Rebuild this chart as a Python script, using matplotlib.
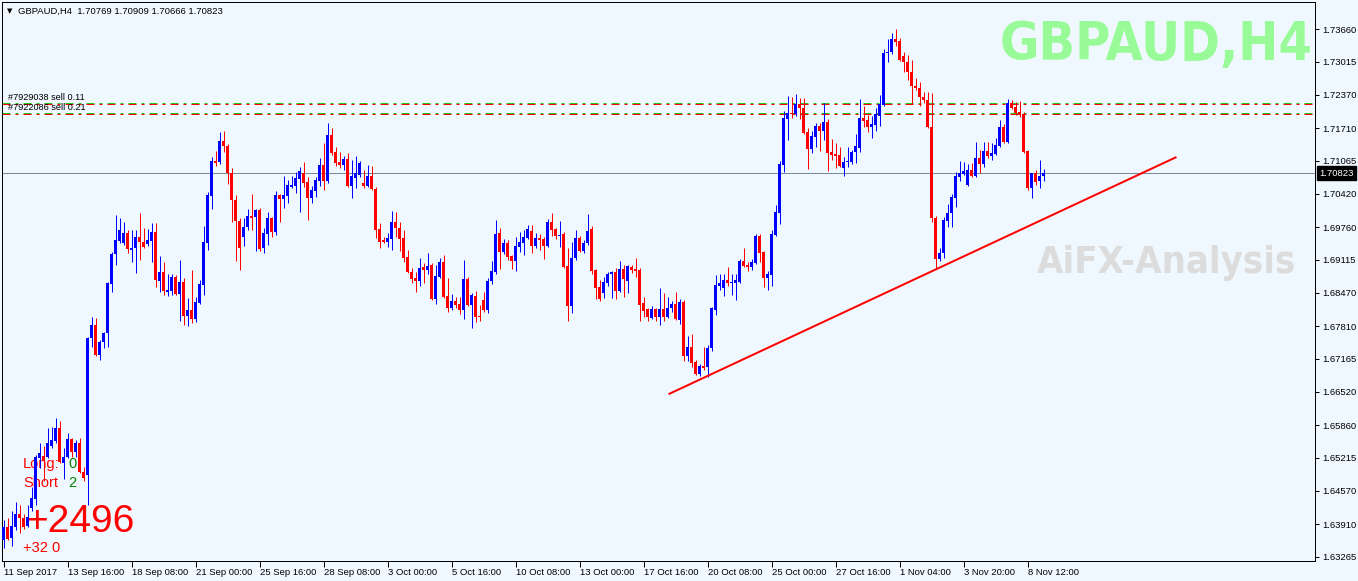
import matplotlib
matplotlib.use("Agg")
import matplotlib.pyplot as plt
import matplotlib.transforms as mtransforms
from matplotlib import font_manager as fm

# GBPAUD H4 candles (bar 0 = 11 Sep 2017 00:00)
opens = [
    1.6359, 1.6385, 1.6363, 1.6385, 1.6412, 1.6403, 1.6387, 1.6422, 1.6440, 1.6521,
    1.6525, 1.6523, 1.6546, 1.6554, 1.6580, 1.6511, 1.6523, 1.6558, 1.6533, 1.6550,
    1.6493, 1.6487, 1.6757, 1.6783, 1.6724, 1.6749, 1.6767, 1.6864, 1.6923, 1.6948,
    1.6944, 1.6964, 1.6930, 1.6934, 1.6956, 1.6946, 1.6942, 1.6948, 1.6966, 1.6870,
    1.6887, 1.6848, 1.6850, 1.6877, 1.6844, 1.6868, 1.6800, 1.6812, 1.6795, 1.6826,
    1.6862, 1.6944, 1.7037, 1.7106, 1.7104, 1.7145, 1.7135, 1.7082, 1.7029, 1.6988,
    1.6956, 1.6976, 1.6997, 1.6996, 1.7009, 1.6934, 1.6962, 1.6994, 1.6966, 1.7039,
    1.7031, 1.7037, 1.7055, 1.7057, 1.7070, 1.7082, 1.7065, 1.7033, 1.7047, 1.7066,
    1.7098, 1.7066, 1.7157, 1.7124, 1.7104, 1.7098, 1.7110, 1.7057, 1.7072, 1.7078,
    1.7063, 1.7057, 1.7076, 1.7051, 1.6972, 1.6950, 1.6946, 1.6952, 1.6986, 1.6974,
    1.6954, 1.6917, 1.6887, 1.6875, 1.6870, 1.6897, 1.6891, 1.6901, 1.6834, 1.6877,
    1.6907, 1.6840, 1.6816, 1.6830, 1.6824, 1.6812, 1.6873, 1.6822, 1.6840, 1.6801,
    1.6832, 1.6812, 1.6870, 1.6887, 1.6964, 1.6927, 1.6944, 1.6919, 1.6909, 1.6936,
    1.6944, 1.6954, 1.6968, 1.6938, 1.6954, 1.6952, 1.6938, 1.6986, 1.6972, 1.6958,
    1.6962, 1.6899, 1.6820, 1.6915, 1.6954, 1.6929, 1.6944, 1.6972, 1.6891, 1.6858,
    1.6846, 1.6866, 1.6883, 1.6887, 1.6850, 1.6893, 1.6870, 1.6897, 1.6893, 1.6891,
    1.6826, 1.6814, 1.6797, 1.6814, 1.6799, 1.6814, 1.6799, 1.6816, 1.6824, 1.6793,
    1.6828, 1.6722, 1.6739, 1.6710, 1.6686, 1.6702, 1.6700, 1.6737, 1.6812, 1.6860,
    1.6856, 1.6872, 1.6866, 1.6866, 1.6868, 1.6909, 1.6901, 1.6897, 1.6905, 1.6958,
    1.6927, 1.6875, 1.6881, 1.6960, 1.7003, 1.7098, 1.7189, 1.7200, 1.7198, 1.7218,
    1.7210, 1.7163, 1.7130, 1.7153, 1.7175, 1.7165, 1.7183, 1.7124, 1.7120, 1.7118,
    1.7092, 1.7104, 1.7104, 1.7124, 1.7131, 1.7191, 1.7187, 1.7173, 1.7177, 1.7194,
    1.7216, 1.7319, 1.7321, 1.7346, 1.7342, 1.7313, 1.7301, 1.7281, 1.7254, 1.7250,
    1.7232, 1.7226, 1.7173, 1.6994, 1.6913, 1.6925, 1.6988, 1.7003, 1.7033, 1.7074,
    1.7080, 1.7059, 1.7088, 1.7076, 1.7112, 1.7100, 1.7126, 1.7116, 1.7120, 1.7135,
    1.7173, 1.7143, 1.7220, 1.7212, 1.7202, 1.7198, 1.7126, 1.7053, 1.7082, 1.7066,
    1.70769,
]
highs = [
    1.6399, 1.6403, 1.6418, 1.6434, 1.6428, 1.6412, 1.6428, 1.6464, 1.6527, 1.6550,
    1.6546, 1.6580, 1.6582, 1.6600, 1.6594, 1.6542, 1.6570, 1.6560, 1.6556, 1.6560,
    1.6503, 1.6759, 1.6799, 1.6797, 1.6753, 1.6769, 1.6868, 1.6927, 1.6999, 1.6994,
    1.6986, 1.6970, 1.6970, 1.6970, 1.7003, 1.6974, 1.6972, 1.6984, 1.6984, 1.6919,
    1.6907, 1.6883, 1.6883, 1.6881, 1.6911, 1.6875, 1.6836, 1.6891, 1.6838, 1.6872,
    1.6978, 1.7045, 1.7114, 1.7126, 1.7163, 1.7165, 1.7139, 1.7092, 1.7039, 1.6994,
    1.6994, 1.7011, 1.7041, 1.7011, 1.7013, 1.6974, 1.7005, 1.6996, 1.7047, 1.7041,
    1.7076, 1.7068, 1.7076, 1.7084, 1.7094, 1.7104, 1.7074, 1.7057, 1.7074, 1.7112,
    1.7141, 1.7181, 1.7171, 1.7133, 1.7124, 1.7116, 1.7122, 1.7108, 1.7116, 1.7106,
    1.7088, 1.7098, 1.7096, 1.7055, 1.6984, 1.6956, 1.6964, 1.7007, 1.7005, 1.6986,
    1.6970, 1.6930, 1.6895, 1.6887, 1.6915, 1.6905, 1.6925, 1.6905, 1.6901, 1.6915,
    1.6921, 1.6875, 1.6844, 1.6838, 1.6838, 1.6911, 1.6877, 1.6846, 1.6850, 1.6822,
    1.6848, 1.6875, 1.6909, 1.6990, 1.6974, 1.6952, 1.6950, 1.6921, 1.6956, 1.6966,
    1.6970, 1.6980, 1.6980, 1.6964, 1.6962, 1.6956, 1.6992, 1.7003, 1.6974, 1.6988,
    1.6966, 1.6934, 1.6946, 1.6970, 1.6958, 1.6950, 1.7001, 1.6978, 1.6893, 1.6872,
    1.6877, 1.6887, 1.6889, 1.6895, 1.6909, 1.6901, 1.6901, 1.6901, 1.6915, 1.6895,
    1.6838, 1.6816, 1.6820, 1.6816, 1.6856, 1.6846, 1.6838, 1.6830, 1.6848, 1.6834,
    1.6832, 1.6761, 1.6765, 1.6714, 1.6706, 1.6739, 1.6743, 1.6818, 1.6881, 1.6883,
    1.6883, 1.6897, 1.6883, 1.6883, 1.6913, 1.6934, 1.6907, 1.6913, 1.6962, 1.6962,
    1.6929, 1.6889, 1.6970, 1.7019, 1.7106, 1.7204, 1.7234, 1.7232, 1.7238, 1.7230,
    1.7230, 1.7171, 1.7165, 1.7181, 1.7181, 1.7220, 1.7189, 1.7149, 1.7141, 1.7133,
    1.7114, 1.7133, 1.7128, 1.7159, 1.7228, 1.7214, 1.7196, 1.7194, 1.7210, 1.7236,
    1.7326, 1.7346, 1.7358, 1.7366, 1.7348, 1.7321, 1.7315, 1.7305, 1.7269, 1.7261,
    1.7242, 1.7242, 1.7240, 1.6998, 1.6934, 1.6996, 1.7021, 1.7041, 1.7084, 1.7106,
    1.7104, 1.7100, 1.7102, 1.7143, 1.7128, 1.7143, 1.7143, 1.7141, 1.7151, 1.7187,
    1.7179, 1.7228, 1.7226, 1.7222, 1.7224, 1.7202, 1.7128, 1.7082, 1.7088, 1.7108,
    1.70909,
]
lows = [
    1.6345, 1.6359, 1.6349, 1.6379, 1.6373, 1.6381, 1.6385, 1.6418, 1.6428, 1.6501,
    1.6477, 1.6521, 1.6542, 1.6550, 1.6511, 1.6481, 1.6521, 1.6523, 1.6523, 1.6491,
    1.6477, 1.6428, 1.6739, 1.6722, 1.6714, 1.6737, 1.6739, 1.6848, 1.6901, 1.6944,
    1.6940, 1.6925, 1.6907, 1.6885, 1.6911, 1.6934, 1.6938, 1.6907, 1.6858, 1.6848,
    1.6842, 1.6840, 1.6842, 1.6842, 1.6791, 1.6783, 1.6781, 1.6787, 1.6789, 1.6824,
    1.6842, 1.6930, 1.7011, 1.7096, 1.7100, 1.7124, 1.7061, 1.6986, 1.6909, 1.6891,
    1.6938, 1.6970, 1.6970, 1.6929, 1.6929, 1.6925, 1.6940, 1.6956, 1.6960, 1.6986,
    1.7013, 1.7023, 1.7053, 1.7043, 1.7005, 1.7055, 1.6990, 1.7023, 1.7035, 1.7057,
    1.7049, 1.7063, 1.7118, 1.7096, 1.7092, 1.7088, 1.7055, 1.7033, 1.7053, 1.7074,
    1.7053, 1.7055, 1.7049, 1.6954, 1.6934, 1.6944, 1.6936, 1.6930, 1.6956, 1.6929,
    1.6907, 1.6885, 1.6866, 1.6848, 1.6860, 1.6866, 1.6883, 1.6832, 1.6824, 1.6875,
    1.6836, 1.6808, 1.6812, 1.6816, 1.6804, 1.6795, 1.6820, 1.6777, 1.6789, 1.6791,
    1.6808, 1.6806, 1.6864, 1.6883, 1.6893, 1.6923, 1.6911, 1.6893, 1.6889, 1.6927,
    1.6921, 1.6952, 1.6925, 1.6934, 1.6930, 1.6913, 1.6936, 1.6958, 1.6952, 1.6936,
    1.6895, 1.6791, 1.6806, 1.6911, 1.6927, 1.6925, 1.6940, 1.6883, 1.6834, 1.6830,
    1.6836, 1.6860, 1.6836, 1.6834, 1.6848, 1.6838, 1.6846, 1.6885, 1.6877, 1.6791,
    1.6799, 1.6791, 1.6795, 1.6791, 1.6783, 1.6791, 1.6797, 1.6808, 1.6793, 1.6785,
    1.6712, 1.6712, 1.6700, 1.6684, 1.6682, 1.6694, 1.6680, 1.6733, 1.6802, 1.6852,
    1.6840, 1.6860, 1.6842, 1.6832, 1.6866, 1.6897, 1.6889, 1.6891, 1.6903, 1.6907,
    1.6858, 1.6852, 1.6860, 1.6958, 1.6982, 1.7084, 1.7147, 1.7191, 1.7194, 1.7189,
    1.7159, 1.7090, 1.7122, 1.7133, 1.7126, 1.7147, 1.7086, 1.7108, 1.7092, 1.7094,
    1.7076, 1.7094, 1.7100, 1.7102, 1.7124, 1.7173, 1.7163, 1.7151, 1.7165, 1.7175,
    1.7214, 1.7301, 1.7317, 1.7332, 1.7303, 1.7281, 1.7265, 1.7218, 1.7246, 1.7214,
    1.7220, 1.7171, 1.6986, 1.6895, 1.6909, 1.6915, 1.6976, 1.6976, 1.7015, 1.7066,
    1.7078, 1.7057, 1.7074, 1.7074, 1.7082, 1.7094, 1.7112, 1.7108, 1.7118, 1.7133,
    1.7141, 1.7141, 1.7208, 1.7196, 1.7192, 1.7122, 1.7049, 1.7033, 1.7059, 1.7053,
    1.70666,
]
closes = [
    1.6385, 1.6361, 1.6387, 1.6412, 1.6403, 1.6385, 1.6405, 1.6442, 1.6523, 1.6531,
    1.6517, 1.6550, 1.6556, 1.6580, 1.6513, 1.6523, 1.6558, 1.6533, 1.6550, 1.6493,
    1.6483, 1.6757, 1.6783, 1.6724, 1.6749, 1.6767, 1.6866, 1.6923, 1.6950, 1.6970,
    1.6964, 1.6932, 1.6934, 1.6956, 1.6946, 1.6936, 1.6950, 1.6966, 1.6872, 1.6887,
    1.6850, 1.6852, 1.6877, 1.6844, 1.6868, 1.6800, 1.6812, 1.6795, 1.6828, 1.6864,
    1.6946, 1.7039, 1.7106, 1.7102, 1.7145, 1.7135, 1.7082, 1.7029, 1.6988, 1.6934,
    1.6976, 1.6997, 1.6994, 1.7009, 1.6932, 1.6964, 1.6994, 1.6966, 1.7039, 1.7031,
    1.7039, 1.7059, 1.7059, 1.7072, 1.7086, 1.7063, 1.7033, 1.7049, 1.7068, 1.7098,
    1.7066, 1.7157, 1.7122, 1.7102, 1.7098, 1.7110, 1.7057, 1.7076, 1.7082, 1.7102,
    1.7057, 1.7076, 1.7051, 1.6970, 1.6946, 1.6946, 1.6954, 1.6986, 1.6974, 1.6952,
    1.6915, 1.6887, 1.6873, 1.6870, 1.6895, 1.6891, 1.6899, 1.6834, 1.6879, 1.6907,
    1.6838, 1.6816, 1.6830, 1.6822, 1.6812, 1.6873, 1.6822, 1.6842, 1.6799, 1.6799,
    1.6812, 1.6870, 1.6889, 1.6962, 1.6927, 1.6944, 1.6917, 1.6909, 1.6938, 1.6946,
    1.6956, 1.6972, 1.6938, 1.6954, 1.6950, 1.6938, 1.6986, 1.6970, 1.6958, 1.6960,
    1.6897, 1.6820, 1.6915, 1.6954, 1.6929, 1.6944, 1.6968, 1.6889, 1.6856, 1.6834,
    1.6868, 1.6883, 1.6887, 1.6850, 1.6893, 1.6873, 1.6899, 1.6891, 1.6889, 1.6822,
    1.6810, 1.6799, 1.6814, 1.6799, 1.6814, 1.6799, 1.6816, 1.6824, 1.6795, 1.6828,
    1.6722, 1.6739, 1.6708, 1.6686, 1.6702, 1.6698, 1.6737, 1.6816, 1.6862, 1.6866,
    1.6872, 1.6866, 1.6868, 1.6872, 1.6909, 1.6899, 1.6897, 1.6907, 1.6958, 1.6925,
    1.6875, 1.6883, 1.6962, 1.7005, 1.7100, 1.7191, 1.7200, 1.7198, 1.7218, 1.7210,
    1.7161, 1.7130, 1.7155, 1.7175, 1.7165, 1.7183, 1.7122, 1.7118, 1.7116, 1.7096,
    1.7104, 1.7106, 1.7124, 1.7135, 1.7191, 1.7185, 1.7173, 1.7179, 1.7198, 1.7218,
    1.7319, 1.7321, 1.7346, 1.7340, 1.7305, 1.7301, 1.7281, 1.7254, 1.7250, 1.7232,
    1.7226, 1.7173, 1.6994, 1.6913, 1.6925, 1.6990, 1.7003, 1.7035, 1.7076, 1.7082,
    1.7086, 1.7088, 1.7076, 1.7112, 1.7100, 1.7126, 1.7116, 1.7122, 1.7137, 1.7173,
    1.7143, 1.7220, 1.7210, 1.7200, 1.7196, 1.7124, 1.7053, 1.7082, 1.7065, 1.7076,
    1.70823,
]

# time axis labels (one every 16 bars)
time_tick_bars = [0, 16, 32, 48, 64, 80, 96, 112, 128, 144, 160, 176, 192, 208, 224, 240, 256]
time_tick_labels = ["11 Sep 2017", "13 Sep 16:00", "18 Sep 08:00", "21 Sep 00:00",
                    "25 Sep 16:00", "28 Sep 08:00", "3 Oct 00:00", "5 Oct 16:00",
                    "10 Oct 08:00", "13 Oct 00:00", "17 Oct 16:00", "20 Oct 08:00",
                    "25 Oct 00:00", "27 Oct 16:00", "1 Nov 04:00", "3 Nov 20:00",
                    "8 Nov 12:00"]
price_ticks = [1.73660, 1.73015, 1.72370, 1.71710, 1.71065, 1.70420, 1.69760, 1.69115,
               1.68470, 1.67810, 1.67165, 1.66520, 1.65860, 1.65215, 1.64570, 1.63910,
               1.63265]

# open sell orders
order_labels = ["#7929038 sell 0.11", "#7922086 sell 0.21"]
order_prices = [1.72183, 1.71987]

# hand-drawn support trendline (bar index, price)
trend_bars = [166.25, 293.25]
trend_prices = [1.6647, 1.7114]

# account panel
long_count, short_count = 0, 2
profit_text = "+2496"
sub_text = "+32 0"

BG = "#F0F8FF"
BULL = "#0000FF"
BEAR = "#FF0000"
PX = 0.72  # one pixel in points at dpi 100

plt.rcParams["font.family"] = ["Liberation Sans", "DejaVu Sans"]


def heavy_narrow_font():
    # prefer a narrow/condensed bold face if one is installed
    prefs = ["liberationsansnarrow-bold.", "dejavusanscondensed-bold.",
             "robotocondensed-bold.", "opensanscondensed-bold", "roboto-black.",
             "lato-black.", "liberationsans-bold."]
    files = [f.fname for f in fm.fontManager.ttflist]
    for key in prefs:
        for fn in files:
            if key in fn.lower().replace(" ", "").replace("_", "-"):
                return fm.FontProperties(fname=fn)
    return fm.FontProperties(family=["Liberation Sans", "DejaVu Sans"], weight="bold")


W, H = 1358, 581
fig = plt.figure(figsize=(W / 100, H / 100), dpi=100, facecolor=BG)
ax = fig.add_axes([2 / W, 20 / H, 1313 / W, 559 / H])
ax.set_facecolor(BG)

n = len(closes)
idx = list(range(n))
cols = [BULL if c >= o else BEAR for o, c in zip(opens, closes)]
hi = [max(h, o, c) for h, o, c in zip(highs, opens, closes)]
lo = [min(l, o, c) for l, o, c in zip(lows, opens, closes)]
ax.vlines(idx, lo, hi, colors=cols, linewidth=PX, zorder=3)
body_bottom = [min(o, c) for o, c in zip(opens, closes)]
body_h = [max(abs(c - o), 0.0002) for o, c in zip(opens, closes)]
ax.bar(idx, body_h, bottom=body_bottom, width=0.75, color=cols, linewidth=0, zorder=4)

ax.set_xlim(-0.375, 327.875)
ax.set_ylim(1.63186, 1.74192)

# current price line
last = closes[-1]
ax.axhline(last, color="#778899", lw=PX, zorder=2)

# order lines: green/red dash-dot pair
for lbl, p in zip(order_labels, order_prices):
    ax.axhline(p + 0.0002, color="#1FC81F", lw=PX, dashes=(8, 5, 3, 5), zorder=2)
    ax.axhline(p, color="#FF0000", lw=PX, dashes=(8, 5, 3, 5), zorder=2)
    ax.text(1.2, p + 0.0004, lbl, fontsize=6.6, color="black", ha="left",
            va="bottom", zorder=5)

# trendline
ax.plot(trend_bars, trend_prices, color="#FF0000", lw=2 * PX, zorder=5,
        solid_capstyle="butt")

# watermark / symbol texts, sized to the reference widths
renderer = fig.canvas.get_renderer()


def fitted_label(s, x0, x1, top, base, color):
    fp = heavy_narrow_font()
    fp.set_size(40)
    t = ax.text(x0 / W, 0.5, s, transform=fig.transFigure, fontproperties=fp,
                color=color, ha="left", va="baseline", zorder=1)
    bb = t.get_window_extent(renderer)
    size = 40 * (x1 - x0) / bb.width
    size = min(size, (base - top) / 0.72 * 0.72 / 1.0)  # do not exceed cap height
    t.set_fontsize(size)
    cap = size * 100 / 72 * 0.72
    baseline = base - ((base - top) - cap) / 2
    bb = t.get_window_extent(renderer)
    xc = (x0 + x1) / 2 - bb.width / 2
    t.set_position((xc / W, 1 - baseline / H))
    return t


fitted_label("GBPAUD,H4", 1000, 1313, 10, 71, "#98FB98")
fitted_label("AiFX-Analysis", 1037, 1296, 240, 278, "#DCDCDC")

# header
fig.text(7 / W, 1 - 13 / H, "\u25BC", fontsize=5, family=["DejaVu Sans"], color="black")
fig.text(18 / W, 1 - 14 / H, "GBPAUD,H4  1.70769 1.70909 1.70666 1.70823",
         fontsize=6.8, color="black", ha="left", va="baseline")


# account panel (under the candles)
def ftext(x, y, s, **kw):
    ax.text(x / W, 1 - y / H, s, transform=fig.transFigure, ha="left",
            va="baseline", clip_on=False, zorder=1, **kw)


ftext(23, 468, "Long:", fontsize=10.5, color="#FF0000")
ftext(68, 468, str(long_count), fontsize=10.5, color="#008000")
ftext(23, 487, "Short", fontsize=10.5, color="#FF0000")
ftext(68, 487, str(short_count), fontsize=10.5, color="#008000")
ftext(25, 532, profit_text, fontsize=28, color="#FF0000")
ftext(23, 552, sub_text, fontsize=10.5, color="#FF0000")

# axes styling
for sp in ax.spines.values():
    sp.set_linewidth(PX)
    sp.set_color("black")
ax.yaxis.tick_right()
ax.set_yticks(price_ticks)
ax.set_yticklabels([f"{p:.5f}" for p in price_ticks])
ax.tick_params(axis="y", direction="out", length=3, width=PX, pad=2,
               labelsize=6.8, colors="black")
ax.set_xticks(time_tick_bars)
ax.set_xticklabels(time_tick_labels)
ax.tick_params(axis="x", direction="out", length=4, width=PX, pad=1,
               labelsize=6.8, colors="black")
for t in ax.get_xticklabels():
    t.set_horizontalalignment("left")

# last price box on the right scale
ax.text(1.0 + 4 / 1313, last, f"{last:.5f}",
        transform=mtransforms.blended_transform_factory(ax.transAxes, ax.transData),
        fontsize=6.8, color="white", ha="left", va="center", clip_on=False, zorder=6,
        bbox=dict(boxstyle="square,pad=0.25", fc="black", ec="black"))

fig.savefig("out.png", dpi=100, facecolor=BG)
